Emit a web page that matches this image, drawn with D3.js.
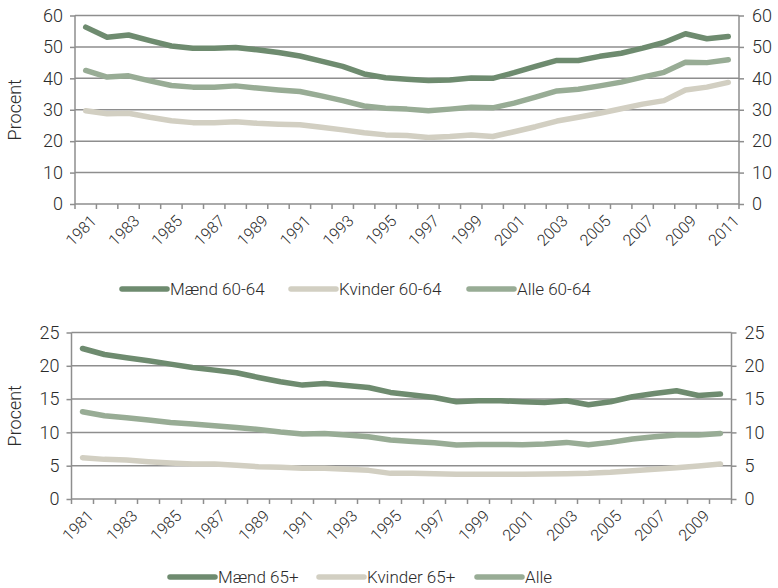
<!DOCTYPE html>
<html>
<head>
<meta charset="utf-8">
<script src="https://cdn.jsdelivr.net/npm/d3@7"></script>
<style>
  body { margin: 0; background: #fff; }
  svg { display: block; font-family: Roboto, "Liberation Sans", sans-serif; font-weight: 300; }
</style>
</head>
<body>
<svg id="chart" width="778" height="588"></svg>
<script>
// years (categories)
const years6064 = [1981, 1982, 1983, 1984, 1985, 1986, 1987, 1988, 1989, 1990, 1991, 1992, 1993, 1994, 1995, 1996,
  1997, 1998, 1999, 2000, 2001, 2002, 2003, 2004, 2005, 2006, 2007, 2008, 2009, 2010, 2011];
const years65 = [1981, 1982, 1983, 1984, 1985, 1986, 1987, 1988, 1989, 1990, 1991, 1992, 1993, 1994, 1995, 1996,
  1997, 1998, 1999, 2000, 2001, 2002, 2003, 2004, 2005, 2006, 2007, 2008, 2009, 2010];

// top panel, 60-64 year olds (procent)
const maend6064 = [56.3, 53.1, 53.8, 52.0, 50.3, 49.6, 49.6, 49.8, 49.1, 48.2, 47.1, 45.5, 43.8, 41.4, 40.2, 39.7,
  39.3, 39.5, 40.1, 40.0, 41.8, 43.8, 45.7, 45.7, 47.0, 48.0, 49.6, 51.4, 54.2, 52.6, 53.3];
const kvinder6064 = [29.7, 28.7, 28.9, 27.6, 26.5, 25.9, 25.9, 26.2, 25.7, 25.4, 25.2, 24.4, 23.6, 22.7, 22.0, 21.8,
  21.2, 21.5, 22.0, 21.5, 23.0, 24.6, 26.4, 27.6, 28.9, 30.3, 31.8, 32.9, 36.3, 37.2, 38.7];
const alle6064 = [42.5, 40.4, 40.8, 39.2, 37.7, 37.2, 37.2, 37.6, 36.9, 36.3, 35.8, 34.4, 32.9, 31.2, 30.5, 30.2,
  29.7, 30.2, 30.8, 30.6, 32.1, 34.0, 36.0, 36.5, 37.6, 38.8, 40.4, 41.9, 45.1, 45.0, 45.9];

// bottom panel, 65+ (procent)
const maend65 = [22.6, 21.7, 21.2, 20.75, 20.25, 19.75, 19.35, 18.95, 18.25, 17.6, 17.1, 17.35, 17.05, 16.75, 16.0,
  15.6, 15.25, 14.6, 14.75, 14.75, 14.6, 14.5, 14.75, 14.15, 14.6, 15.35, 15.85, 16.25, 15.55, 15.75];
const kvinder65 = [6.2, 5.95, 5.85, 5.6, 5.4, 5.25, 5.25, 5.05, 4.85, 4.75, 4.6, 4.6, 4.45, 4.3, 3.85,
  3.85, 3.8, 3.7, 3.7, 3.7, 3.7, 3.75, 3.8, 3.85, 4.0, 4.25, 4.45, 4.7, 4.95, 5.25];
const alle65 = [13.1, 12.5, 12.2, 11.85, 11.5, 11.25, 11.0, 10.75, 10.45, 10.05, 9.75, 9.85, 9.6, 9.35, 8.85,
  8.65, 8.45, 8.1, 8.2, 8.2, 8.15, 8.25, 8.5, 8.15, 8.5, 9.0, 9.35, 9.6, 9.6, 9.85];

const ticks6064 = [0, 10, 20, 30, 40, 50, 60];
const ticks65 = [0, 5, 10, 15, 20, 25];

const colors = { maend: '#6e8b6f', kvinder: '#d2cfc2', alle: '#98ac95' };
const gridColor = '#8e8e8e';
const textColor = '#2b2b2b';

const svg = d3.select('#chart');

function drawPanel(opts) {
  const { years, series, ticks, left, right, top, bottom, legendY, legendX, labelEvery } = opts;
  const g = svg.append('g');

  const x = d3.scaleBand().domain(years).range([left, right]).padding(0);
  const y = d3.scaleLinear().domain([0, d3.max(ticks)]).range([bottom, top]);

  // horizontal gridlines
  g.append('g')
    .selectAll('line')
    .data(ticks.filter((t) => t > 0))
    .join('line')
    .attr('x1', left)
    .attr('x2', right)
    .attr('y1', (d) => y(d))
    .attr('y2', (d) => y(d))
    .attr('stroke', gridColor)
    .attr('stroke-width', 1.5);

  // left and right value axes
  const axL = g.append('g')
    .attr('transform', `translate(${left},0)`)
    .call(d3.axisLeft(y).tickValues(ticks).tickSize(5).tickPadding(7).tickFormat(d3.format('d')));
  const axR = g.append('g')
    .attr('transform', `translate(${right},0)`)
    .call(d3.axisRight(y).tickValues(ticks).tickSize(5).tickPadding(8).tickFormat(d3.format('d')));
  [axL, axR].forEach((ax) => {
    ax.select('.domain').attr('stroke', gridColor).attr('stroke-width', 1.5);
    ax.selectAll('.tick line').attr('stroke', gridColor).attr('stroke-width', 1.5);
    ax.selectAll('.tick text')
      .attr('fill', textColor)
      .attr('font-size', 18)
      .attr('font-family', 'Roboto, sans-serif')
      .attr('font-weight', 300);
  });
  axL.select('.domain').attr('d', `M0,${top}V${bottom}`);
  axR.select('.domain').attr('d', `M0,${top}V${bottom}`);

  // category axis: baseline, ticks between categories, rotated labels
  g.append('line')
    .attr('x1', left).attr('x2', right)
    .attr('y1', bottom).attr('y2', bottom)
    .attr('stroke', gridColor).attr('stroke-width', 1.5);
  g.append('g')
    .selectAll('line')
    .data(years.concat(['end']))
    .join('line')
    .attr('x1', (d) => (d === 'end' ? right : x(d)))
    .attr('x2', (d) => (d === 'end' ? right : x(d)))
    .attr('y1', bottom)
    .attr('y2', bottom + 5)
    .attr('stroke', gridColor)
    .attr('stroke-width', 1.5);
  g.append('g')
    .selectAll('text')
    .data(years.filter((d, i) => i % labelEvery === 0))
    .join('text')
    .attr('transform', (d) => `translate(${x(d) + x.bandwidth() / 2 + 4},${bottom + 10}) rotate(-45)`)
    .attr('text-anchor', 'end')
    .attr('dy', '0.7em')
    .attr('fill', textColor)
    .attr('font-size', 16)
    .text((d) => d);

  // y title
  g.append('text')
    .attr('transform', `translate(21,${(top + bottom) / 2}) rotate(-90)`)
    .attr('text-anchor', 'middle')
    .attr('fill', textColor)
    .attr('font-size', 18)
    .text('Procent');

  // lines
  const line = d3.line()
    .x((d, i) => x(years[i]) + x.bandwidth() / 2)
    .y((d) => y(d))
    .curve(d3.curveLinear);
  series.forEach((s) => {
    g.append('path')
      .datum(s.values)
      .attr('d', line)
      .attr('fill', 'none')
      .attr('stroke', s.color)
      .attr('stroke-width', 5.5)
      .attr('stroke-linecap', 'round')
      .attr('stroke-linejoin', 'round');
  });

  // legend
  const leg = g.append('g');
  series.forEach((s, i) => {
    const lx = legendX[i];
    leg.append('line')
      .attr('x1', lx).attr('x2', lx + 45)
      .attr('y1', legendY).attr('y2', legendY)
      .attr('stroke', s.color)
      .attr('stroke-width', 5.5)
      .attr('stroke-linecap', 'round');
    leg.append('text')
      .attr('x', lx + 48)
      .attr('y', legendY)
      .attr('dy', '0.35em')
      .attr('fill', textColor)
      .attr('font-size', 17)
      .text(s.name);
  });
}

drawPanel({
  years: years6064,
  series: [
    { name: 'Mænd 60-64', values: maend6064, color: colors.maend },
    { name: 'Kvinder 60-64', values: kvinder6064, color: colors.kvinder },
    { name: 'Alle 60-64', values: alle6064, color: colors.alle },
  ],
  ticks: ticks6064,
  left: 75,
  right: 739,
  top: 15.5,
  bottom: 204,
  labelEvery: 2,
  legendY: 289,
  legendX: [122, 291, 469],
});

drawPanel({
  years: years65,
  series: [
    { name: 'Mænd 65+', values: maend65, color: colors.maend },
    { name: 'Kvinder 65+', values: kvinder65, color: colors.kvinder },
    { name: 'Alle', values: alle65, color: colors.alle },
  ],
  ticks: ticks65,
  left: 71.5,
  right: 731.5,
  top: 332.5,
  bottom: 499,
  labelEvery: 2,
  legendY: 577,
  legendX: [170, 319, 477],
});
</script>
</body>
</html>
